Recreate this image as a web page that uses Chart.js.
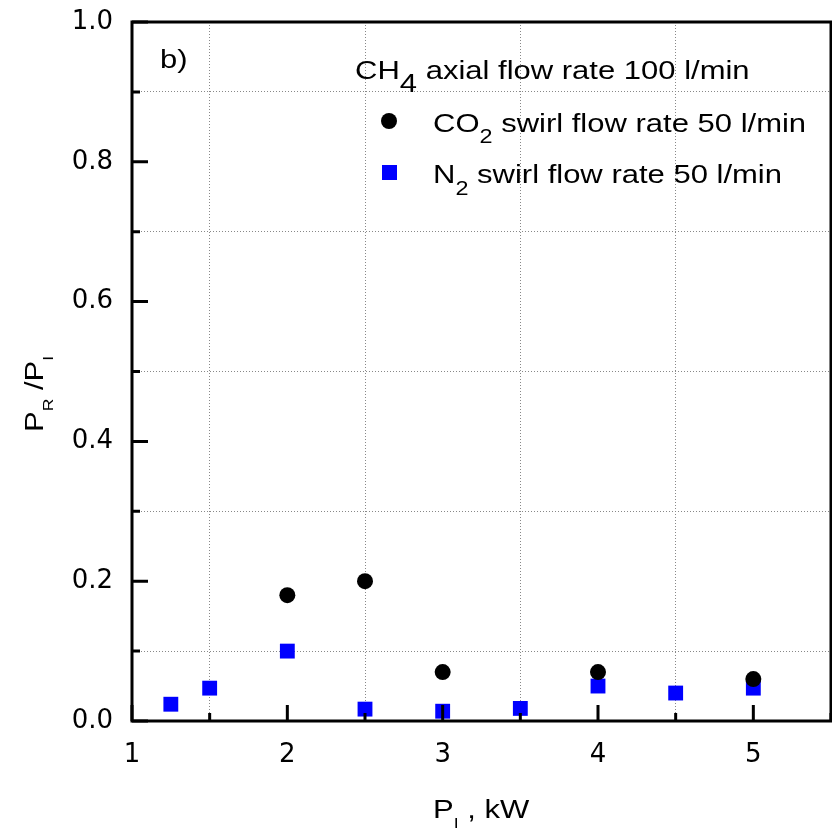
<!DOCTYPE html>
<html>
<head>
<meta charset="utf-8">
<script src="https://cdn.jsdelivr.net/npm/chart.js@4.4.1/dist/chart.umd.min.js"></script>
<style>
  html, body { margin: 0; padding: 0; background: #fff; overflow: hidden; }
  #wrap { width: 832px; height: 829px; position: relative; }
  canvas { display: block; }
</style>
</head>
<body>
<div id="wrap"><canvas id="chart"></canvas></div>
<script>
// ==========================================
// 1. Data
// ==========================================
const co2X = [2, 2.5, 3, 4, 5];
const co2Y = [0.18, 0.20, 0.070, 0.070, 0.060];

const n2X = [1.25, 1.5, 2, 2.5, 3, 3.5, 4, 4.5, 5];
const n2Y = [0.024, 0.047, 0.100, 0.017, 0.014, 0.018, 0.050, 0.040, 0.047];

const xTickLabels = [1, 2, 3, 4, 5];
const yTickLabels = ['0.0', '0.2', '0.4', '0.6', '0.8', '1.0'];

const toPoints = (xs, ys) => xs.map((x, i) => ({ x: x, y: ys[i] }));

// ==========================================
// 2. Text helpers (stretched Arial-like font, subscripts)
// ==========================================
const SX = 1.17;
const MAIN = '26.5px "Liberation Sans", Arial, sans-serif';
const SUB = '20px "Liberation Sans", Arial, sans-serif';
const SMALL = '15px "Liberation Sans", Arial, sans-serif';

function drawPieces(ctx, pieces, x, y) {
    let cx = x;
    pieces.forEach(p => {
        ctx.save();
        ctx.font = p.f;
        ctx.scale(SX, 1);
        ctx.fillText(p.t, cx / SX, y + (p.dy || 0));
        cx += ctx.measureText(p.t).width * SX;
        ctx.restore();
    });
}

// ==========================================
// 3. Frame, inward ticks, legend and titles
// ==========================================
const framePlugin = {
    id: 'frame',
    afterDatasetsDraw(chart) {
        const ctx = chart.ctx;
        const a = chart.chartArea;
        const xs = chart.scales.x, ys = chart.scales.y;
        ctx.save();
        ctx.strokeStyle = '#000';
        ctx.lineWidth = 3;
        ctx.strokeRect(a.left, a.top, a.right - a.left, a.bottom - a.top);

        ctx.beginPath();
        xs.ticks.forEach(t => {
            const px = xs.getPixelForValue(t.value);
            const len = Number.isInteger(t.value) ? 16 : 8;
            ctx.moveTo(px, a.bottom);
            ctx.lineTo(px, a.bottom - len);
        });
        ys.ticks.forEach(t => {
            const py = ys.getPixelForValue(t.value);
            const len = Math.round(t.value * 10) % 2 === 0 ? 16 : 8;
            ctx.moveTo(a.left, py);
            ctx.lineTo(a.left + len, py);
        });
        ctx.stroke();

        // legend
        ctx.fillStyle = '#000';
        ctx.textBaseline = 'alphabetic';
        drawPieces(ctx, [{ t: 'b)', f: MAIN }], 160, 68);
        drawPieces(ctx, [{ t: 'CH', f: MAIN }, { t: '4', f: MAIN, dy: 13 }, { t: ' axial flow rate 100 l/min', f: MAIN }], 355, 79);
        drawPieces(ctx, [{ t: 'CO', f: MAIN }, { t: '2', f: SUB, dy: 11 }, { t: ' swirl flow rate 50 l/min', f: MAIN }], 433, 132);
        drawPieces(ctx, [{ t: 'N', f: MAIN }, { t: '2', f: SUB, dy: 12 }, { t: ' swirl flow rate 50 l/min', f: MAIN }], 433, 183);

        ctx.beginPath();
        ctx.arc(389, 121, 8, 0, Math.PI * 2);
        ctx.fill();
        ctx.fillStyle = '#0000ff';
        ctx.fillRect(382, 165, 15, 15);

        // axis titles
        ctx.fillStyle = '#000';
        drawPieces(ctx, [{ t: 'P', f: MAIN }, { t: 'I', f: SMALL, dy: 10 }, { t: ' , kW', f: MAIN }], 433, 818);

        ctx.save();
        ctx.translate(43, 432);
        ctx.rotate(-Math.PI / 2);
        drawPieces(ctx, [{ t: 'P', f: MAIN }, { t: 'R', f: SMALL, dy: 10 }, { t: ' /', f: MAIN }, { t: 'P', f: MAIN }, { t: 'I', f: SMALL, dy: 10 }], 0, 0);
        ctx.restore();
        ctx.restore();
    }
};

// ==========================================
// 4. Chart
// ==========================================
const gridDotted = { dash: [1, 2], display: false };

new Chart(document.getElementById('chart'), {
    type: 'scatter',
    data: {
        datasets: [
            {
                label: 'CO2 swirl flow rate 50 l/min',
                data: toPoints(co2X, co2Y),
                pointStyle: 'circle',
                pointRadius: 8,
                pointHoverRadius: 8,
                backgroundColor: '#000',
                borderWidth: 0
            },
            {
                label: 'N2 swirl flow rate 50 l/min',
                data: toPoints(n2X, n2Y),
                pointStyle: 'rect',
                pointRadius: 10.5,
                pointHoverRadius: 10.5,
                backgroundColor: '#0000ff',
                borderWidth: 0
            }
        ]
    },
    options: {
        responsive: true,
        maintainAspectRatio: false,
        animation: false,
        layout: { autoPadding: false, padding: { top: 22, right: 1, left: 0, bottom: 0 } },
        plugins: { legend: { display: false }, tooltip: { enabled: false } },
        scales: {
            x: {
                type: 'linear',
                min: 1,
                max: 5.5,
                afterFit: s => { s.height = 108; s.paddingLeft = 0; s.paddingRight = 0; },
                border: gridDotted,
                grid: {
                    drawTicks: false,
                    lineWidth: 1,
                    color: c => (c.tick && Math.round(c.tick.value * 10) % 10 === 5 && c.tick.value < 5.5) ? '#888' : 'rgba(0,0,0,0)'
                },
                ticks: {
                    stepSize: 0.5,
                    padding: 19,
                    maxRotation: 0,
                    autoSkip: false,
                    color: '#000',
                    font: { family: '"DejaVu Sans", sans-serif', size: 26 },
                    callback: v => xTickLabels.includes(v) ? String(v) : ''
                }
            },
            y: {
                type: 'linear',
                min: 0,
                max: 1,
                afterFit: s => { s.width = 132; s.paddingTop = 0; s.paddingBottom = 0; },
                border: gridDotted,
                grid: {
                    drawTicks: false,
                    lineWidth: 1,
                    color: c => (c.tick && Math.round(c.tick.value * 10) % 2 === 1) ? '#888' : 'rgba(0,0,0,0)'
                },
                ticks: {
                    stepSize: 0.1,
                    padding: 19,
                    autoSkip: false,
                    color: '#000',
                    font: { family: '"DejaVu Sans", sans-serif', size: 26 },
                    callback: v => {
                        const s = v.toFixed(1);
                        return yTickLabels.includes(s) ? s : '';
                    }
                }
            }
        }
    },
    plugins: [framePlugin]
});
</script>
</body>
</html>
